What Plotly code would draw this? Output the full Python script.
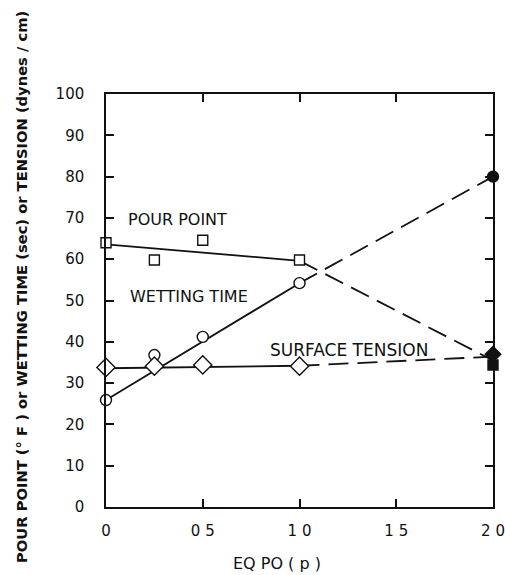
import plotly.graph_objects as go

# x positions (EQ PO, p)
x_pts = [0, 0.25, 0.5, 1.0]
x_end = [2.0]

# Pour point (°F) – open squares, filled at 2.0
pour_pts = [64.0, 59.8, 64.6, 59.8]
pour_end = [34.4]
pour_fit_x = [0, 1.0, 2.0]
pour_fit_y = [63.6, 59.6, 35.5]

# Wetting time (sec) – open circles, filled at 2.0
wet_pts = [25.9, 36.8, 41.2, 54.2]
wet_end = [80.0]
wet_fit_x = [0, 1.0, 2.0]
wet_fit_y = [25.9, 54.2, 80.0]

# Surface tension (dynes/cm) – open diamonds, filled at 2.0
st_pts = [33.8, 34.1, 34.4, 34.1]
st_end = [37.0]
st_fit_x = [0, 1.0, 2.0]
st_fit_y = [33.6, 34.2, 36.4]

x_tickvals = [0, 0.5, 1.0, 1.5, 2.0]
x_ticktext = ["0", "0 5", "1 0", "1 5", "2 0"]
y_tickvals = [0, 10, 20, 30, 40, 50, 60, 70, 80, 90, 100]

INK = "#111111"
FONT = "DejaVu Sans"

fig = go.Figure()

def add_fit(xs, ys):
    fig.add_trace(go.Scatter(x=xs[:2], y=ys[:2], mode="lines",
                             line=dict(color=INK, width=1.8), showlegend=False, hoverinfo="skip"))
    fig.add_trace(go.Scatter(x=xs[1:], y=ys[1:], mode="lines",
                             line=dict(color=INK, width=1.8, dash="20px,9px"),
                             showlegend=False, hoverinfo="skip"))

add_fit(pour_fit_x, pour_fit_y)
add_fit(wet_fit_x, wet_fit_y)
add_fit(st_fit_x, st_fit_y)

def add_markers(xs, ys, symbol, size, filled):
    fig.add_trace(go.Scatter(
        x=xs, y=ys, mode="markers", showlegend=False,
        marker=dict(symbol=symbol, size=size,
                    color=INK if filled else "white",
                    line=dict(color=INK, width=1.4)),
        cliponaxis=False))

add_markers(x_pts, pour_pts, "square", 10, False)
add_markers(x_pts, wet_pts, "circle", 11, False)
add_markers(x_pts, st_pts, "diamond", 14, False)
add_markers(x_end, pour_end, "square", 10, True)
add_markers(x_end, st_end, "diamond", 12, True)
add_markers(x_end, wet_end, "circle", 11, True)

labels = [("POUR POINT", 0.367, 69.5, 16),
          ("WETTING TIME", 0.43, 51.0, 16),
          ("SURFACE TENSION", 1.256, 38.0, 17)]
for txt, lx, ly, fs in labels:
    fig.add_annotation(x=lx, y=ly, text=txt, showarrow=False,
                       font=dict(family=FONT, size=fs, color=INK))

fig.add_annotation(xref="paper", yref="paper", x=-0.217, y=0.533,
                   xanchor="center", yanchor="middle",
                   text="<b>POUR POINT (° F ) or WETTING TIME (sec) or TENSION (dynes / cm)</b>",
                   textangle=-90, showarrow=False,
                   font=dict(family=FONT, size=14.7, color=INK))
fig.add_annotation(xref="paper", yref="paper", x=0.442, y=-0.136,
                   xanchor="center", yanchor="middle",
                   text="EQ PO ( p )", showarrow=False,
                   font=dict(family=FONT, size=16, color=INK))

axis_common = dict(showgrid=False, zeroline=False, showline=True, linecolor=INK,
                   linewidth=1.5, ticks="inside", ticklen=8, tickwidth=1.5,
                   tickcolor=INK, mirror="ticks", automargin=False,
                   ticklabeloverflow="allow",
                   tickfont=dict(family=FONT, size=15, color=INK))

fig.update_xaxes(range=[0, 2.0], tickvals=x_tickvals, ticktext=x_ticktext,
                 ticklabelstandoff=9, **axis_common)
fig.update_yaxes(range=[0, 100], tickvals=y_tickvals, ticklabelstandoff=17, **axis_common)

fig.update_layout(width=505, height=575, margin=dict(l=106, r=12, t=94, b=68),
                  plot_bgcolor="white", paper_bgcolor="white", showlegend=False)

fig.write_html("out.html", config={"displayModeBar": False},
               post_script="document.body.style.margin='0';document.body.style.overflow='hidden';")
